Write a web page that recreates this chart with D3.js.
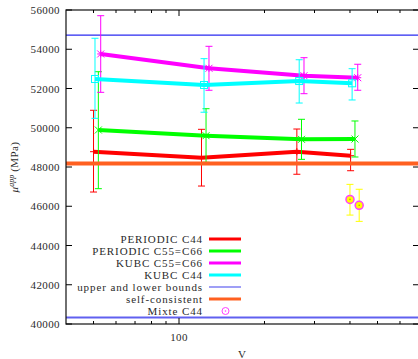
<!DOCTYPE html>
<html><head><meta charset="utf-8">
<script src="https://cdn.jsdelivr.net/npm/d3@7"></script>
<style>body{margin:0;background:#fff}svg{display:block}text{font-family:"Liberation Serif","DejaVu Serif",serif;fill:#2a2a2a}</style>
</head><body><svg id="c" width="418" height="359"></svg>
<script>
// ---- data ----
const periodicC44_V = [50, 120, 260, 402];
const periodicC44 = [48780, 48470, 48780, 48575];
const periodicC44_lo = [46725, 47030, 47630, 47810];
const periodicC44_hi = [50890, 49920, 49935, 48900];

const periodicC55_V = [52, 124.5, 270, 416.5];
const periodicC55 = [49885, 49595, 49410, 49425];
const periodicC55_lo = [46895, 48240, 48390, 48510];
const periodicC55_hi = [52855, 50970, 50430, 50345];

const kubcC55_V = [53, 127.5, 275.5, 426];
const kubcC55 = [53760, 53030, 52650, 52550];
const kubcC55_lo = [51805, 51910, 51735, 51910];
const kubcC55_hi = [55710, 54150, 53570, 53235];

const kubcC44_V = [50.6, 122.5, 265, 407];
const kubcC44 = [52485, 52180, 52380, 52265];
const kubcC44_lo = [50480, 50790, 51260, 51415];
const kubcC44_hi = [54560, 53520, 53465, 53010];

const upperBound = 54720;
const lowerBound = 40330;
const selfConsistent = 48180;

const mixteC44_V = [400, 431];
const mixteC44 = [46350, 46050];
const mixteC44_lo = [45550, 45230];
const mixteC44_hi = [47115, 46865];

const yTicks = [40000, 42000, 44000, 46000, 48000, 50000, 52000, 54000, 56000];
const xMajorTicks = [100];
const xMinorTicks = [50, 60, 70, 80, 90, 200, 300, 400, 500, 600];

const legendLabels = ["PERIODIC C44", "PERIODIC C55=C66", "KUBC C55=C66", "KUBC C44", "upper and lower bounds", "self-consistent", "Mixte C44"];

// ---- drawing ----
const svg = d3.select("#c");
const L = 66, R = 419, T = 10, B = 324;
const x = d3.scaleLog().domain([40, 700]).range([L, R]);
const y = d3.scaleLinear().domain([40000, 56000]).range([B, T]);

const series = [
  {V: periodicC44_V, v: periodicC44, lo: periodicC44_lo, hi: periodicC44_hi, color: "#ff0000", marker: "plus"},
  {V: periodicC55_V, v: periodicC55, lo: periodicC55_lo, hi: periodicC55_hi, color: "#00ff00", marker: "cross"},
  {V: kubcC55_V, v: kubcC55, lo: kubcC55_lo, hi: kubcC55_hi, color: "#ff00ff", marker: "star"},
  {V: kubcC44_V, v: kubcC44, lo: kubcC44_lo, hi: kubcC44_hi, color: "#00ffff", marker: "square"}
];

// bounds + self consistent
svg.append("line").attr("x1", L).attr("x2", R).attr("y1", y(upperBound)).attr("y2", y(upperBound))
  .attr("stroke", "#2a2af0").attr("stroke-width", 1.2);
svg.append("line").attr("x1", L).attr("x2", R).attr("y1", y(lowerBound)).attr("y2", y(lowerBound))
  .attr("stroke", "#6060f0").attr("stroke-width", 2);

function drawMarker(g, type, cx, cy, color) {
  const s = 3.5;
  if (type === "plus" || type === "star") {
    g.append("line").attr("x1", cx - s).attr("x2", cx + s).attr("y1", cy).attr("y2", cy).attr("stroke", color).attr("stroke-width", 1);
    g.append("line").attr("x1", cx).attr("x2", cx).attr("y1", cy - s).attr("y2", cy + s).attr("stroke", color).attr("stroke-width", 1);
  }
  if (type === "cross" || type === "star") {
    g.append("line").attr("x1", cx - s).attr("x2", cx + s).attr("y1", cy - s).attr("y2", cy + s).attr("stroke", color).attr("stroke-width", 1);
    g.append("line").attr("x1", cx - s).attr("x2", cx + s).attr("y1", cy + s).attr("y2", cy - s).attr("stroke", color).attr("stroke-width", 1);
  }
  if (type === "square") {
    g.append("rect").attr("x", cx - s).attr("y", cy - s).attr("width", 2 * s).attr("height", 2 * s)
      .attr("fill", "none").attr("stroke", color).attr("stroke-width", 1);
  }
}

const line = d3.line().x(d => x(d[0])).y(d => y(d[1]));
series.forEach(s => {
  const g = svg.append("g");
  const pts = s.V.map((V, i) => [V, s.v[i]]);
  g.append("path").attr("d", line(pts)).attr("fill", "none").attr("stroke", s.color).attr("stroke-width", 4).attr("stroke-linejoin", "round");
  s.V.forEach((V, i) => {
    const cx = x(V);
    g.append("line").attr("x1", cx).attr("x2", cx).attr("y1", y(s.lo[i])).attr("y2", y(s.hi[i])).attr("stroke", s.color).attr("stroke-width", 1);
    [s.lo[i], s.hi[i]].forEach(e => g.append("line").attr("x1", cx - 3.5).attr("x2", cx + 3.5).attr("y1", y(e)).attr("y2", y(e)).attr("stroke", s.color).attr("stroke-width", 1));
    drawMarker(g, s.marker, cx, y(s.v[i]), s.color);
  });
});

svg.append("line").attr("x1", L).attr("x2", R).attr("y1", y(selfConsistent)).attr("y2", y(selfConsistent))
  .attr("stroke", "#ff6020").attr("stroke-width", 4);

// mixte
mixteC44_V.forEach((V, i) => {
  const cx = x(V), cy = y(mixteC44[i]);
  svg.append("line").attr("x1", cx).attr("x2", cx).attr("y1", y(mixteC44_lo[i])).attr("y2", y(mixteC44_hi[i])).attr("stroke", "#ffff00").attr("stroke-width", 1);
  [mixteC44_lo[i], mixteC44_hi[i]].forEach(e => svg.append("line").attr("x1", cx - 3.5).attr("x2", cx + 3.5).attr("y1", y(e)).attr("y2", y(e)).attr("stroke", "#ffff00").attr("stroke-width", 1));
  svg.append("circle").attr("cx", cx).attr("cy", cy).attr("r", 4).attr("fill", "#ffff00").attr("stroke", "#ff40ff").attr("stroke-width", 1.5);
  svg.append("circle").attr("cx", cx).attr("cy", cy).attr("r", 0.8).attr("fill", "#c0a000");
});

// frame
const ax = svg.append("g").attr("stroke", "#000").attr("stroke-width", 1);
ax.append("rect").attr("x", L).attr("y", T).attr("width", R - L).attr("height", B - T).attr("fill", "none").attr("stroke", "#111").attr("stroke-width", 1.2);
yTicks.forEach(t => {
  ax.append("line").attr("x1", L).attr("x2", L + 6).attr("y1", y(t)).attr("y2", y(t));
  ax.append("line").attr("x1", R - 6).attr("x2", R).attr("y1", y(t)).attr("y2", y(t));
  svg.append("text").attr("x", 60).attr("y", y(t) + 4).attr("text-anchor", "end").attr("font-size", 11).attr("letter-spacing", 0.4).text(t);
});
xMajorTicks.forEach(t => {
  ax.append("line").attr("x1", x(t)).attr("x2", x(t)).attr("y1", B).attr("y2", B - 6);
  ax.append("line").attr("x1", x(t)).attr("x2", x(t)).attr("y1", T).attr("y2", T + 6);
  svg.append("text").attr("x", x(t)).attr("y", 341).attr("text-anchor", "middle").attr("font-size", 11).attr("letter-spacing", 0.4).text(t);
});
xMinorTicks.forEach(t => {
  ax.append("line").attr("x1", x(t)).attr("x2", x(t)).attr("y1", B).attr("y2", B - 3);
  ax.append("line").attr("x1", x(t)).attr("x2", x(t)).attr("y1", T).attr("y2", T + 3);
});

svg.append("text").attr("x", 242).attr("y", 358).attr("text-anchor", "middle").attr("font-size", 11).text("V");
const yl = svg.append("text").attr("transform", "translate(18,167) rotate(-90)").attr("text-anchor", "middle").attr("font-size", 11);
yl.append("tspan").attr("font-style", "italic").text("μ");
yl.append("tspan").attr("font-style", "italic").attr("font-size", 8).attr("dy", -4).text("app");
yl.append("tspan").attr("dy", 4).attr("letter-spacing", 0.4).text(" (MPa)");

// legend
const legendStyles = [
  {c: "#ff0000", w: 3}, {c: "#00ff00", w: 3}, {c: "#ff00ff", w: 3}, {c: "#00ffff", w: 3},
  {c: "#6060f0", w: 1.2}, {c: "#ff6020", w: 3}, {c: null}
];
legendLabels.forEach((lab, i) => {
  const ly = 239 + i * 12;
  svg.append("text").attr("x", 203).attr("y", ly + 4).attr("text-anchor", "end").attr("font-size", 11).attr("letter-spacing", 0.9).text(lab);
  const st = legendStyles[i];
  if (st.c) {
    svg.append("line").attr("x1", 209).attr("x2", 241).attr("y1", ly).attr("y2", ly).attr("stroke", st.c).attr("stroke-width", st.w);
  } else {
    svg.append("circle").attr("cx", 225.5).attr("cy", ly).attr("r", 3.5).attr("fill", "none").attr("stroke", "#ff40ff").attr("stroke-width", 1);
    svg.append("circle").attr("cx", 225.5).attr("cy", ly).attr("r", 0.8).attr("fill", "#ff40ff");
  }
});
</script></body></html>
